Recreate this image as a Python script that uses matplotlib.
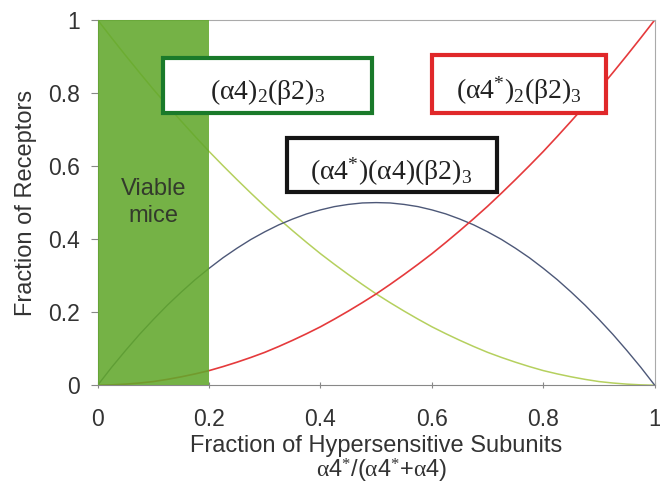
import matplotlib
matplotlib.use('Agg')
import matplotlib.pyplot as plt
from matplotlib.patches import Rectangle
from matplotlib.ticker import FuncFormatter

plt.rcParams['font.family'] = ['Liberation Sans', 'DejaVu Sans']
# upright serif for the box labels (alpha/beta upright like the original)
plt.rcParams['mathtext.fontset'] = 'custom'
plt.rcParams['mathtext.rm'] = 'Liberation Serif'
plt.rcParams['mathtext.it'] = 'Liberation Serif'
plt.rcParams['mathtext.bf'] = 'Liberation Serif:bold'
plt.rcParams['mathtext.sf'] = 'Liberation Sans'

# fraction of hypersensitive subunits
frac = [0.0, 0.025, 0.05, 0.075, 0.1, 0.125, 0.15, 0.175, 0.2, 0.225, 0.25,
        0.275, 0.3, 0.325, 0.35, 0.375, 0.4, 0.425, 0.45, 0.475, 0.5,
        0.525, 0.55, 0.575, 0.6, 0.625, 0.65, 0.675, 0.7, 0.725, 0.75,
        0.775, 0.8, 0.825, 0.85, 0.875, 0.9, 0.925, 0.95, 0.975, 1.0]
wild = [1.0, 0.951, 0.903, 0.856, 0.81, 0.766, 0.723, 0.681, 0.64, 0.601, 0.563,
        0.526, 0.49, 0.456, 0.423, 0.391, 0.36, 0.331, 0.303, 0.276, 0.25,
        0.226, 0.203, 0.181, 0.16, 0.141, 0.123, 0.106, 0.09, 0.076, 0.063,
        0.051, 0.04, 0.031, 0.023, 0.016, 0.01, 0.006, 0.003, 0.001, 0.0]
mixed = [0.0, 0.049, 0.095, 0.139, 0.18, 0.219, 0.255, 0.289, 0.32, 0.349, 0.375,
         0.399, 0.42, 0.439, 0.455, 0.469, 0.48, 0.489, 0.495, 0.499, 0.5,
         0.499, 0.495, 0.489, 0.48, 0.469, 0.455, 0.439, 0.42, 0.399, 0.375,
         0.349, 0.32, 0.289, 0.255, 0.219, 0.18, 0.139, 0.095, 0.049, 0.0]
hyper = [0.0, 0.001, 0.003, 0.006, 0.01, 0.016, 0.023, 0.031, 0.04, 0.051, 0.063,
         0.076, 0.09, 0.106, 0.123, 0.141, 0.16, 0.181, 0.203, 0.226, 0.25,
         0.276, 0.303, 0.331, 0.36, 0.391, 0.423, 0.456, 0.49, 0.526, 0.563,
         0.601, 0.64, 0.681, 0.723, 0.766, 0.81, 0.856, 0.903, 0.951, 1.0]
viable_max = 0.2

fig = plt.figure(figsize=(6.6, 4.87), dpi=100)
ax = fig.add_axes([0.148, 0.209, 0.844, 0.75])

ax.plot(frac, wild, color='#b5d05e', lw=1.1, zorder=2)
ax.plot(frac, mixed, color='#4d5878', lw=1.0, zorder=2)
ax.plot(frac, hyper, color='#e53a3c', lw=1.2, zorder=2)

# viable mice band
ax.axvspan(0, viable_max, color='#62a82c', alpha=0.88, lw=0, zorder=3)
ax.text(viable_max / 2, 0.50, 'Viable\nmice', ha='center', va='center',
        fontsize=17, color='#333a2c', linespacing=1.25, zorder=4)

# labelled boxes
boxes = [
    (0.117, 0.745, 0.375, 0.151, '#1a7a2a', r'$(\alpha4)_2(\beta2)_3$'),
    (0.600, 0.745, 0.312, 0.159, '#e0282a', r'$(\alpha4^{*})_2(\beta2)_3$'),
    (0.339, 0.529, 0.377, 0.148, '#151515', r'$(\alpha4^{*})(\alpha4)(\beta2)_3$'),
]
for x0, y0, w, h, col, lab in boxes:
    ax.add_patch(Rectangle((x0, y0), w, h, facecolor='white', edgecolor=col,
                           lw=3.0, zorder=5))
    ax.text(x0 + w / 2, y0 + h / 2 - 0.018, lab, ha='center', va='center',
            fontsize=20, color='#222222', zorder=6)

ax.set_xlim(0, 1)
ax.set_ylim(0, 1)
ax.set_xticks([0, 0.2, 0.4, 0.6, 0.8, 1])
ax.set_yticks([0, 0.2, 0.4, 0.6, 0.8, 1])
fmt = FuncFormatter(lambda v, p: '%g' % v)
ax.xaxis.set_major_formatter(fmt)
ax.yaxis.set_major_formatter(fmt)
ax.tick_params(axis='both', labelsize=16.5, colors='#333333', length=5,
               color='#888888', pad=8)
ax.tick_params(axis='x', direction='inout', pad=14)

for s in ['left', 'bottom']:
    ax.spines[s].set_color('#888888')
for s in ['top', 'right']:
    ax.spines[s].set_color('#aaaaaa')

ax.set_ylabel('Fraction of Receptors', fontsize=17, color='#333333', labelpad=8)
ax.set_xlabel('Fraction of Hypersensitive Subunits', fontsize=17,
              color='#333333', labelpad=3)
fig.text(0.578, 0.034,
         r'$\alpha\mathsf{4}^{*}\mathsf{/(}\alpha\mathsf{4}^{*}\mathsf{+}\alpha\mathsf{4)}$',
         ha='center', va='center', fontsize=17, color='#333333')

fig.savefig('out.png', dpi=100)
